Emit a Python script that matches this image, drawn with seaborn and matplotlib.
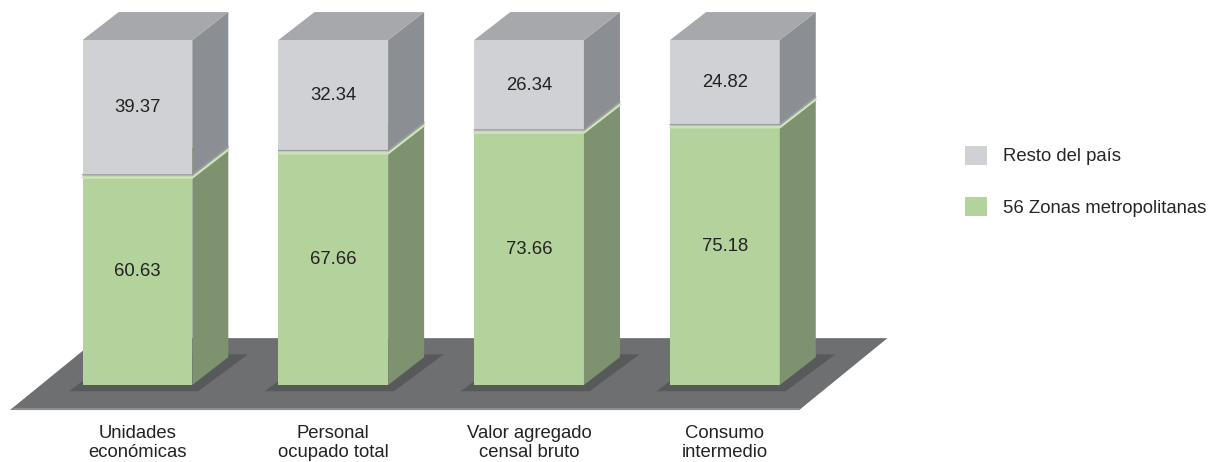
import matplotlib
matplotlib.use("Agg")
import matplotlib.pyplot as plt
from matplotlib.patches import Polygon
import seaborn as sns
import pandas as pd

# data (percent)
categories = ["Unidades\neconómicas", "Personal\nocupado total",
              "Valor agregado\ncensal bruto", "Consumo\nintermedio"]
zonas = [60.63, 67.66, 73.66, 75.18]
resto = [39.37, 32.34, 26.34, 24.82]
series_names = ["Resto del país", "56 Zonas metropolitanas"]

# face colours: front, side, top
gray_cols = ("#cfd1d4", "#8b8e92", "#a6a8ac")
green_cols = ("#b4d29c", "#7e9270", "#9cb487")
floor_col = "#6e6f71"
shadow_col = "#58595b"

DX, DY = 0.184, 8.1      # box depth in data units
BAR_W = 0.56
FS = 13.3

sns.set_theme(style="white")
plt.rcParams["font.family"] = ["Liberation Sans", "DejaVu Sans"]

fig = plt.figure(figsize=(12.17, 4.62), dpi=100)
ax = fig.add_axes([0, 0, 1, 1])

df = pd.DataFrame({"cat": categories, "zonas": zonas, "resto": resto})

sns.barplot(data=df, x="cat", y="resto", color=gray_cols[0], saturation=1,
            width=BAR_W, label=series_names[0], ax=ax, zorder=3,
            linewidth=0)
sns.barplot(data=df, x="cat", y="zonas", color=green_cols[0], saturation=1,
            width=BAR_W, label=series_names[1], ax=ax, zorder=3,
            linewidth=0)

n = len(categories)
gray_bars = ax.patches[:n]
green_bars = ax.patches[n:2 * n]

# stack the gray boxes on top of the green ones
for gb, g in zip(gray_bars, zonas):
    gb.set_y(g)


def side_face(xr, y0, y1):
    return [(xr, y0), (xr + DX, y0 + DY), (xr + DX, y1 + DY), (xr, y1)]


def top_face(xl, xr, y1):
    return [(xl, y1), (xl + DX, y1 + DY), (xr + DX, y1 + DY), (xr, y1)]


# floor under the bars
xl0 = green_bars[0].get_x()
xr_last = green_bars[-1].get_x() + green_bars[-1].get_width()
fl_bot, fl_top, fl_dx = -7.2, 13.6, 0.45
floor = [(xl0 - 0.37, fl_bot), (xr_last + 0.1, fl_bot),
         (xr_last + 0.1 + fl_dx, fl_top), (xl0 - 0.37 + fl_dx, fl_top)]
ax.add_patch(Polygon(floor, closed=True, color=floor_col, zorder=1, lw=0))
ax.plot([floor[0][0] + 0.02, floor[1][0]], [fl_bot + 0.4, fl_bot + 0.4],
        color="#8c8d8f", lw=1.5, zorder=1.5)

for i, (gr, gy) in enumerate(zip(green_bars, gray_bars)):
    xl = gr.get_x()
    xr = xl + gr.get_width()
    g0, g1 = 0, zonas[i]
    r0, r1 = zonas[i], zonas[i] + resto[i]

    # soft shadow at the base
    ax.add_patch(Polygon([(xl - 0.07, -1.8), (xr + 0.03, -1.8),
                          (xr + DX + 0.1, DY + 0.8), (xl + DX, DY + 0.8)],
                         closed=True, color=shadow_col, zorder=2, lw=0))

    gr.set_zorder(3)
    ax.add_patch(Polygon(side_face(xr, g0, g1), closed=True,
                         color=green_cols[1], zorder=3, lw=0))
    ax.add_patch(Polygon(top_face(xl, xr, g1), closed=True,
                         color=green_cols[2], zorder=2.9, lw=0))

    gy.set_zorder(4)
    ax.add_patch(Polygon(side_face(xr, r0, r1), closed=True,
                         color=gray_cols[1], zorder=4, lw=0))
    ax.add_patch(Polygon(top_face(xl, xr, r1), closed=True,
                         color=gray_cols[2], zorder=4, lw=0))
    # seam between the two boxes: light green rim below a gray shadow
    ax.plot([xl, xr, xr + DX], [r0 - 0.5, r0 - 0.5, r0 + DY - 0.5],
            color="#cfe3bd", lw=1.6, zorder=4.5)
    ax.plot([xl, xr, xr + DX], [r0 + 0.3, r0 + 0.3, r0 + DY + 0.3],
            color="#9c9ea2", lw=1.0, zorder=4.5)

    xc = (xl + xr) / 2
    ax.text(xc, (g0 + g1) / 2 + 2.5, f"{zonas[i]:.2f}", ha="center",
            va="center", fontsize=FS, color="#222222", zorder=6)
    ax.text(xc, (r0 + r1) / 2, f"{resto[i]:.2f}", ha="center",
            va="center", fontsize=FS, color="#222222", zorder=6)
    ax.text(xc, -16.8, categories[i], ha="center", va="center",
            fontsize=FS, linespacing=1.12, color="#222222")

ax.set_xlim(-0.702, 5.513)
ax.set_ylim(-22.3, 111.6)
ax.axis("off")

handles, labels = ax.get_legend_handles_labels()
fig.legend(handles[:2], labels[:2], loc="center left",
           bbox_to_anchor=(0.793, 0.608), frameon=False, fontsize=FS,
           handlelength=1.2, handleheight=1.2, handletextpad=0.85,
           labelspacing=1.7, borderpad=0, borderaxespad=0)
if ax.get_legend() is not None:
    ax.get_legend().remove()

fig.savefig("out.png", dpi=100)
